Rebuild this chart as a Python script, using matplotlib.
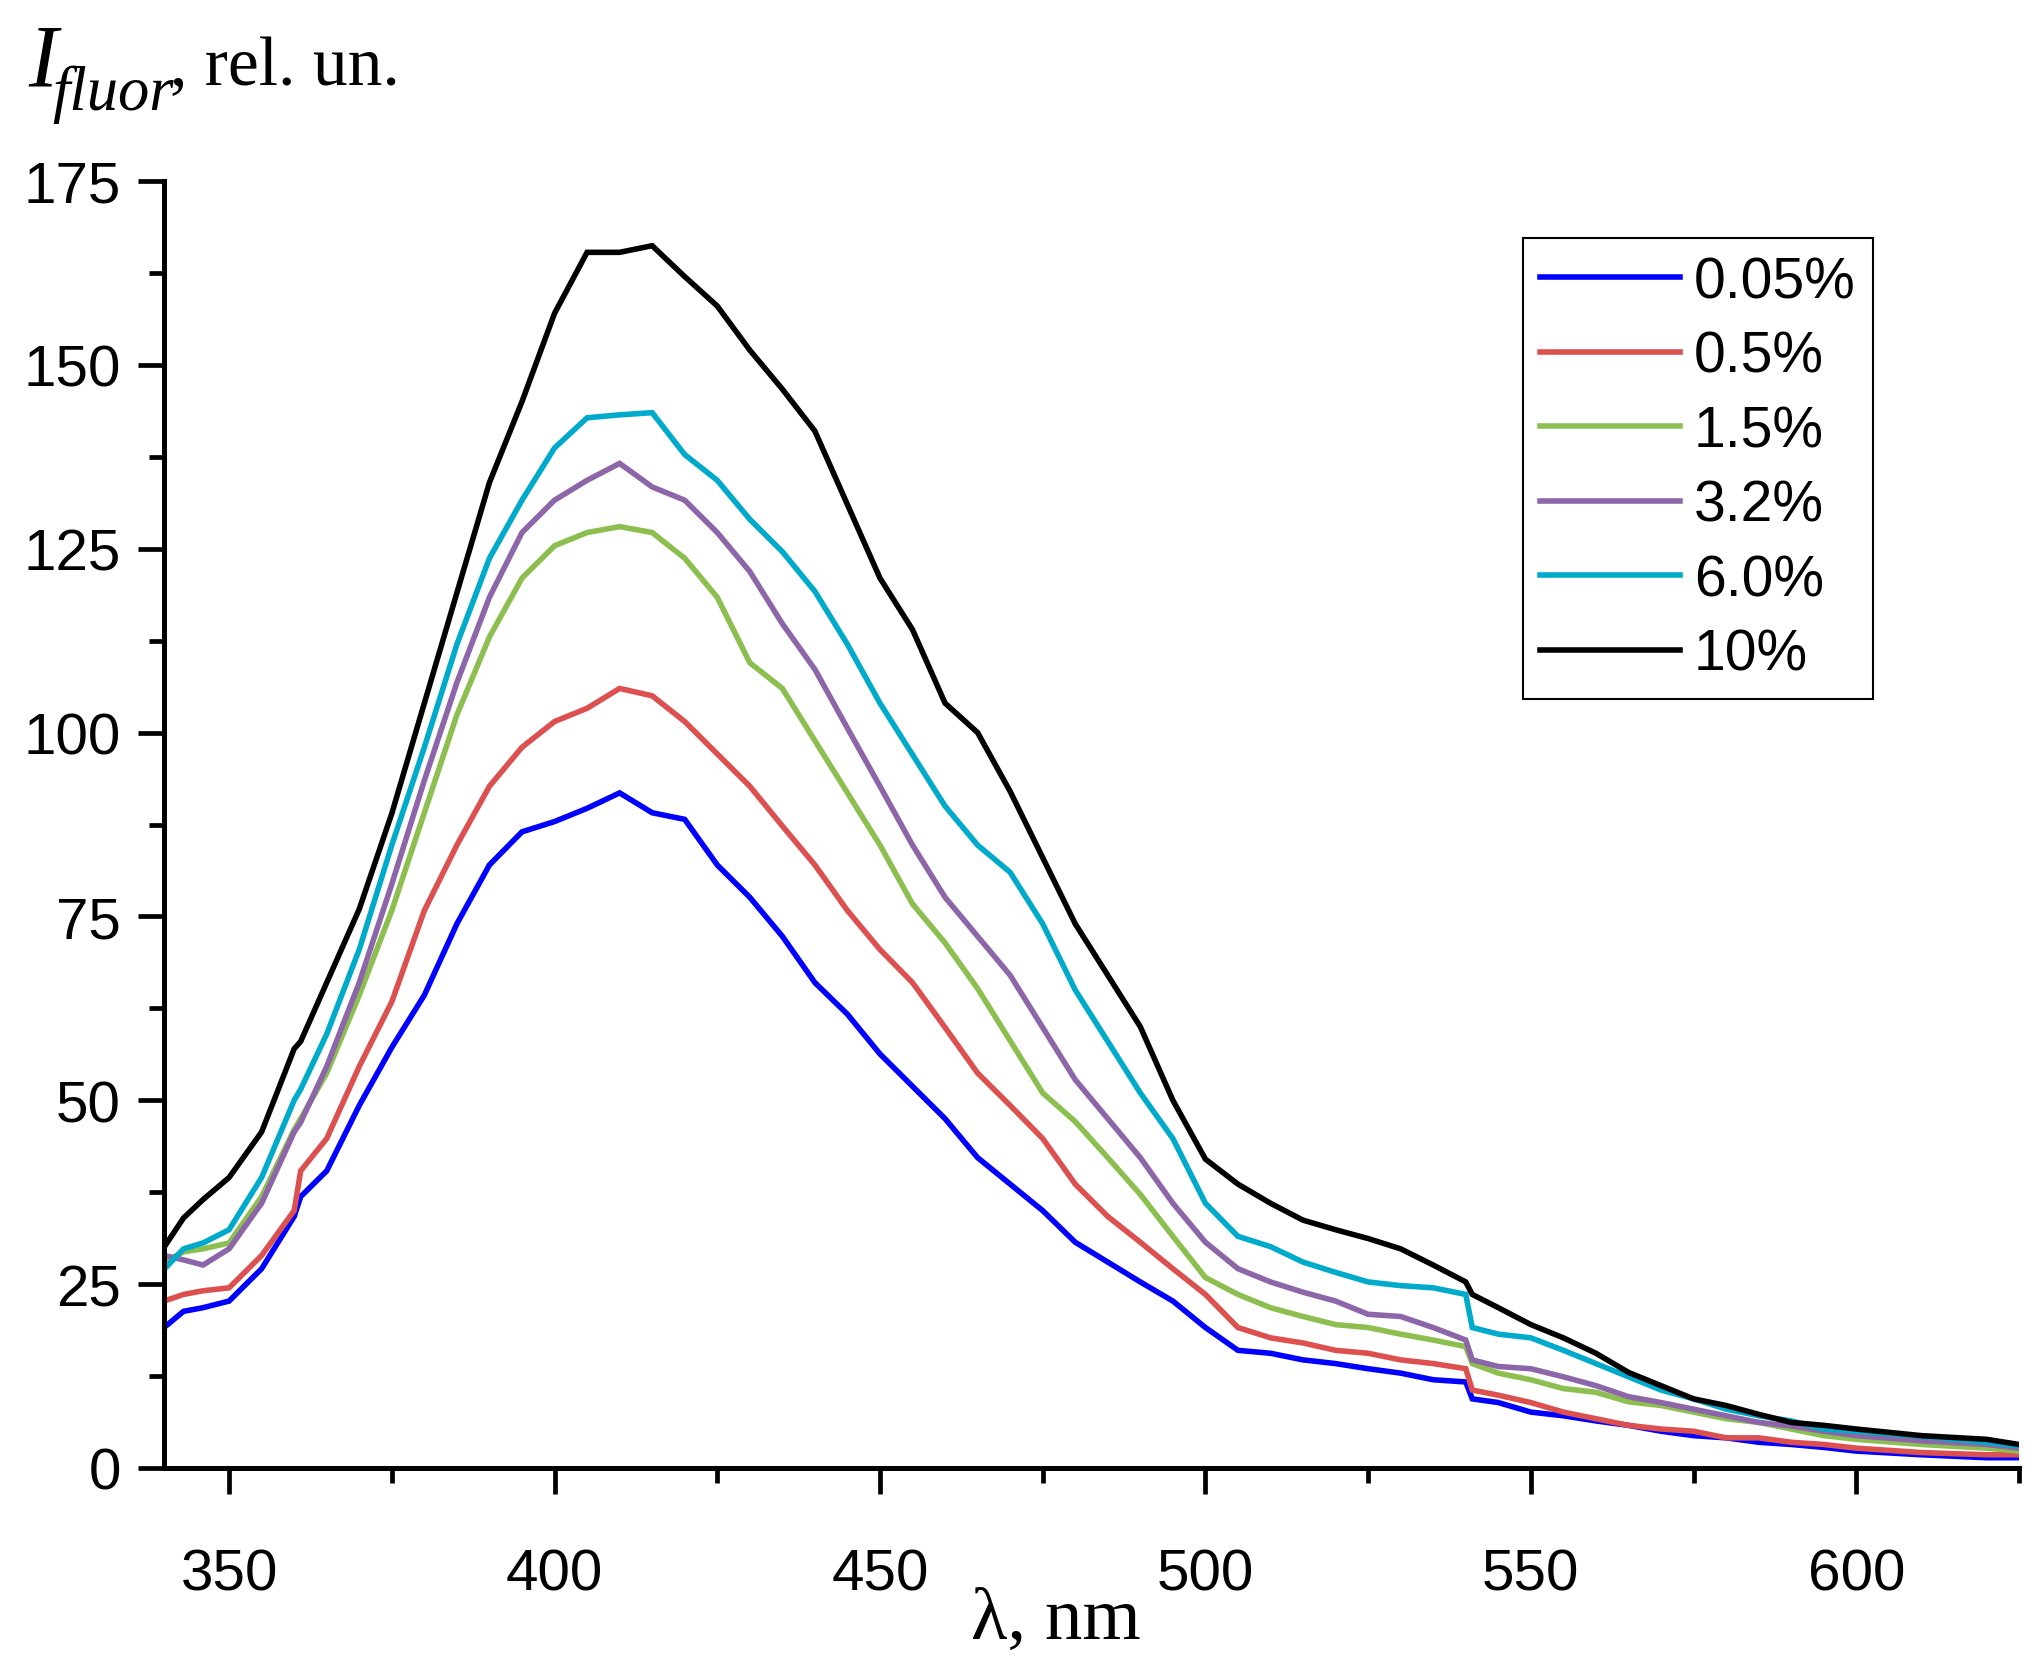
import matplotlib
matplotlib.use("Agg")
import matplotlib.pyplot as plt
from matplotlib.ticker import MultipleLocator

# ==========================
# Data
# ==========================
wavelength = [340, 343, 346, 350, 355, 360, 361, 365, 370, 375, 380, 385, 390, 395,
              400, 405, 410, 415, 420, 425, 430, 435, 440, 445, 450, 455, 460, 465,
              470, 475, 480, 485, 490, 495, 500, 505, 510, 515, 520, 525, 530, 535,
              540, 541, 545, 550, 555, 560, 565, 570, 575, 580, 585, 590, 595, 600,
              610, 620, 625]

i_005 = [19.1, 21.3, 21.8, 22.7, 27.1, 34.2, 36.9, 40.4, 49.3, 57.2, 64.3, 74.0, 82.0, 86.5,
         87.9, 89.7, 91.8, 89.1, 88.2, 82.0, 77.6, 72.3, 66.0, 61.7, 56.3, 51.9, 47.5, 42.2,
         38.6, 35.0, 30.7, 28.0, 25.3, 22.7, 19.1, 16.0, 15.6, 14.7, 14.2, 13.5, 12.9, 12.0,
         11.7, 9.4, 8.9, 7.6, 7.1, 6.4, 5.8, 5.0, 4.4, 4.1, 3.5, 3.2, 2.8, 2.3,
         1.8, 1.4, 1.4]

i_05 = [22.7, 23.6, 24.1, 24.5, 28.9, 35.0, 40.4, 44.8, 54.6, 63.4, 75.8, 84.7, 92.7, 98.0,
        101.5, 103.3, 106.0, 105.0, 101.5, 97.1, 92.7, 87.3, 82.0, 75.8, 70.5, 66.0, 59.9, 53.7,
        49.3, 44.8, 38.6, 34.2, 30.7, 27.1, 23.6, 19.1, 17.7, 17.0, 16.0, 15.6, 14.7, 14.2,
        13.5, 10.6, 9.9, 8.9, 7.6, 6.7, 5.8, 5.3, 5.0, 4.1, 4.1, 3.5, 3.2, 2.7,
        2.1, 1.8, 1.8]

i_15 = [28.0, 29.4, 29.8, 30.6, 36.9, 46.0, 47.5, 53.7, 64.3, 75.8, 89.1, 102.4, 113.0, 121.0,
        125.4, 127.2, 128.0, 127.2, 123.7, 118.4, 109.5, 106.0, 98.9, 91.8, 84.7, 76.7, 71.4, 65.2,
        58.1, 51.0, 47.1, 42.2, 37.2, 31.5, 25.9, 23.6, 21.8, 20.6, 19.5, 19.1, 18.2, 17.4,
        16.5, 14.2, 12.9, 12.0, 10.8, 10.3, 9.0, 8.5, 7.6, 6.7, 6.2, 5.3, 4.4, 3.9,
        3.2, 2.7, 2.3]

i_32 = [28.9, 28.3, 27.6, 29.8, 36.0, 45.7, 47.0, 54.6, 66.0, 79.4, 93.5, 106.8, 118.4, 127.2,
        131.6, 134.3, 136.6, 133.4, 131.6, 127.2, 121.9, 114.8, 108.6, 100.6, 92.7, 84.7, 77.6, 72.3,
        67.0, 59.9, 52.8, 47.5, 42.2, 36.0, 30.7, 27.1, 25.3, 23.9, 22.7, 20.9, 20.6, 19.1,
        17.4, 14.7, 13.8, 13.5, 12.4, 11.2, 9.7, 8.9, 8.0, 7.1, 6.2, 5.7, 5.0, 4.4,
        3.7, 3.2, 2.7]

i_60 = [27.0, 29.8, 30.6, 32.4, 39.5, 50.0, 51.5, 59.0, 70.5, 84.7, 98.0, 112.0, 123.7, 131.6,
        138.7, 142.8, 143.2, 143.5, 137.8, 134.3, 129.0, 124.6, 119.2, 112.0, 104.0, 97.0, 90.0, 84.7,
        81.0, 74.0, 65.0, 58.0, 51.0, 44.8, 36.0, 31.5, 30.1, 28.0, 26.6, 25.3, 24.8, 24.5,
        23.6, 19.1, 18.2, 17.7, 16.0, 14.2, 12.4, 10.6, 9.4, 8.0, 7.1, 6.4, 5.3, 5.0,
        4.3, 3.5, 3.0]

i_10 = [30.0, 34.0, 36.5, 39.5, 45.7, 57.0, 58.0, 66.0, 76.0, 89.0, 104.0, 119.0, 134.0, 145.0,
        157.0, 165.3, 165.3, 166.2, 162.0, 158.0, 152.0, 146.7, 141.0, 131.0, 121.0, 114.0, 104.0, 100.0,
        92.0, 83.0, 74.0, 67.0, 60.0, 50.0, 42.0, 38.6, 36.0, 33.7, 32.4, 31.2, 29.8, 27.6,
        25.3, 23.6, 21.8, 19.5, 17.7, 15.6, 13.0, 11.2, 9.4, 8.5, 7.3, 6.2, 5.8, 5.3,
        4.4, 3.9, 3.2]

labels = ["0.05%", "0.5%", "1.5%", "3.2%", "6.0%", "10%"]
colors = ["#0000FF", "#DC5050", "#8CBF50", "#8C66A8", "#00AACA", "#000000"]
series = [i_005, i_05, i_15, i_32, i_60, i_10]

# ==========================
# Figure
# ==========================
W, H = 2042, 1674
fig = plt.figure(figsize=(W / 100, H / 100), dpi=100)
ax = fig.add_axes([164 / W, 1 - 1469 / H, (2019 - 164) / W, (1469 - 182) / H])

for y, c, lab in zip(series, colors, labels):
    ax.plot(wavelength, y, color=c, lw=4.0, label=lab, solid_joinstyle="miter")

ax.set_xlim(340, 625)
ax.set_ylim(0, 175)
ax.xaxis.set_major_locator(MultipleLocator(50))
ax.xaxis.set_minor_locator(MultipleLocator(25))
ax.yaxis.set_major_locator(MultipleLocator(25))
ax.yaxis.set_minor_locator(MultipleLocator(12.5))

for s in ["top", "right"]:
    ax.spines[s].set_visible(False)
for s in ["left", "bottom"]:
    ax.spines[s].set_linewidth(3.6)

ax.tick_params(which="major", direction="out", length=19, width=3.4,
               labelsize=42, pad=12)
ax.tick_params(axis="x", which="major", pad=38)
ax.tick_params(which="minor", direction="out", length=11, width=3.4)
for t in ax.get_xticklabels() + ax.get_yticklabels():
    t.set_family("Liberation Sans")

# ==========================
# Axis labels (Times-like)
# ==========================
serif = "Liberation Serif"
fig.text(28 / W, 1 - 85 / H, "I", family=serif, style="italic", fontsize=63,
         va="baseline", ha="left")
fig.text(52 / W, 1 - 110 / H, "fluor", family=serif, style="italic", fontsize=45,
         va="baseline", ha="left")
fig.text(170 / W, 1 - 85 / H, ", rel. un.", family=serif, fontsize=50,
         va="baseline", ha="left")
fig.text(1056 / W, 1 - 1639 / H, "λ, nm", family=serif, fontsize=54,
         va="baseline", ha="center")

# ==========================
# Legend
# ==========================
leg = ax.legend(loc="upper left", bbox_to_anchor=(1523 / W, 1 - 239 / H),
                bbox_transform=fig.transFigure, borderaxespad=0,
                prop={"family": "Liberation Sans", "size": 41},
                handlelength=2.45, handletextpad=0.25, labelspacing=0.36,
                borderpad=0.3, fancybox=False, framealpha=1)
leg.get_frame().set_edgecolor("black")
leg.get_frame().set_linewidth(1.5)

fig.savefig("out.png", dpi=100)
